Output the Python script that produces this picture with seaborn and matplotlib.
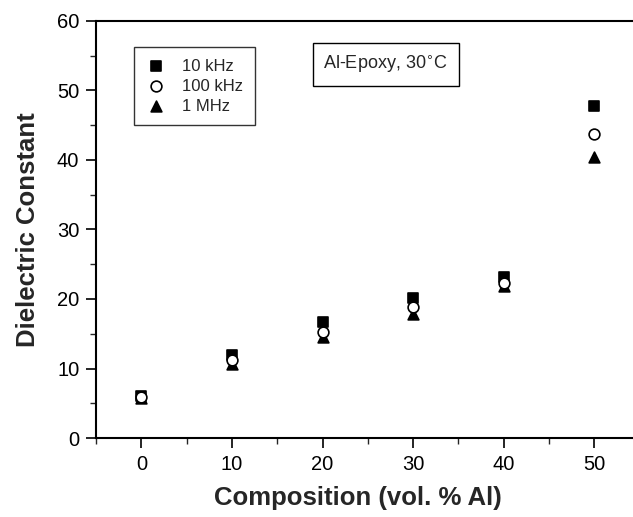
import matplotlib
matplotlib.use("Agg")
import matplotlib.pyplot as plt
from matplotlib.ticker import MultipleLocator
import seaborn as sns
import pandas as pd

# Dielectric constant of Al-epoxy composites at 30 °C
composition = [0, 10, 20, 30, 40, 50]          # vol. % Al
eps_10khz = [6.1, 11.9, 16.7, 20.1, 23.1, 47.8]
eps_100khz = [5.9, 11.2, 15.3, 18.9, 22.3, 43.7]
eps_1mhz = [5.8, 10.6, 14.5, 17.9, 21.8, 40.5]
labels = ["10 kHz", "100 kHz", "1 MHz"]

sns.set_theme(style="ticks")
plt.rcParams["font.family"] = ["Liberation Sans", "DejaVu Sans"]

fig = plt.figure(figsize=(6.33, 5.17), dpi=100)
ax = fig.add_axes([0.1517, 0.1528, 0.8588, 0.8066])

series = [
    (eps_10khz, "s", "black"),
    (eps_100khz, "o", "white"),
    (eps_1mhz, "^", "black"),
]
for (vals, mk, fc), lab in zip(series, labels):
    df = pd.DataFrame({"x": composition, "y": vals})
    sns.scatterplot(data=df, x="x", y="y", marker=mk, s=60, color=fc,
                    edgecolor="black", linewidth=1.2, label=lab, ax=ax,
                    zorder=3 if mk != "o" else 4)

ax.set_xlim(-5, 55)
ax.set_ylim(0, 60)
ax.xaxis.set_major_locator(MultipleLocator(10))
ax.xaxis.set_minor_locator(MultipleLocator(5))
ax.yaxis.set_major_locator(MultipleLocator(10))
ax.yaxis.set_minor_locator(MultipleLocator(5))
ax.tick_params(which="major", direction="out", length=7, width=1.2,
               labelsize=14.5, colors="black", pad=5)
ax.tick_params(which="minor", direction="out", length=4, width=1.0)
for sp in ax.spines.values():
    sp.set_linewidth(1.5)
    sp.set_color("black")

ax.set_xlabel("Composition (vol. % Al)", fontsize=18.5, fontweight="bold", labelpad=9)
ax.xaxis.label.set_x(0.482)
ax.set_ylabel("Dielectric Constant", fontsize=18.5, fontweight="bold", labelpad=12)

leg = ax.legend(loc="upper left", bbox_to_anchor=(0.07, 0.938), borderaxespad=0,
                frameon=True, fancybox=False, edgecolor="black", fontsize=12,
                handletextpad=1.0, borderpad=0.7, labelspacing=0.3,
                handlelength=1.2)
leg.get_frame().set_linewidth(1.0)

ax.text(0.533, 0.895, "Al-Epoxy, 30$^{\\circ}$C", transform=ax.transAxes,
        ha="center", va="center", fontsize=13,
        bbox=dict(boxstyle="square,pad=0.6", fc="white", ec="black", lw=1.0))

fig.savefig("out.png", dpi=100)
